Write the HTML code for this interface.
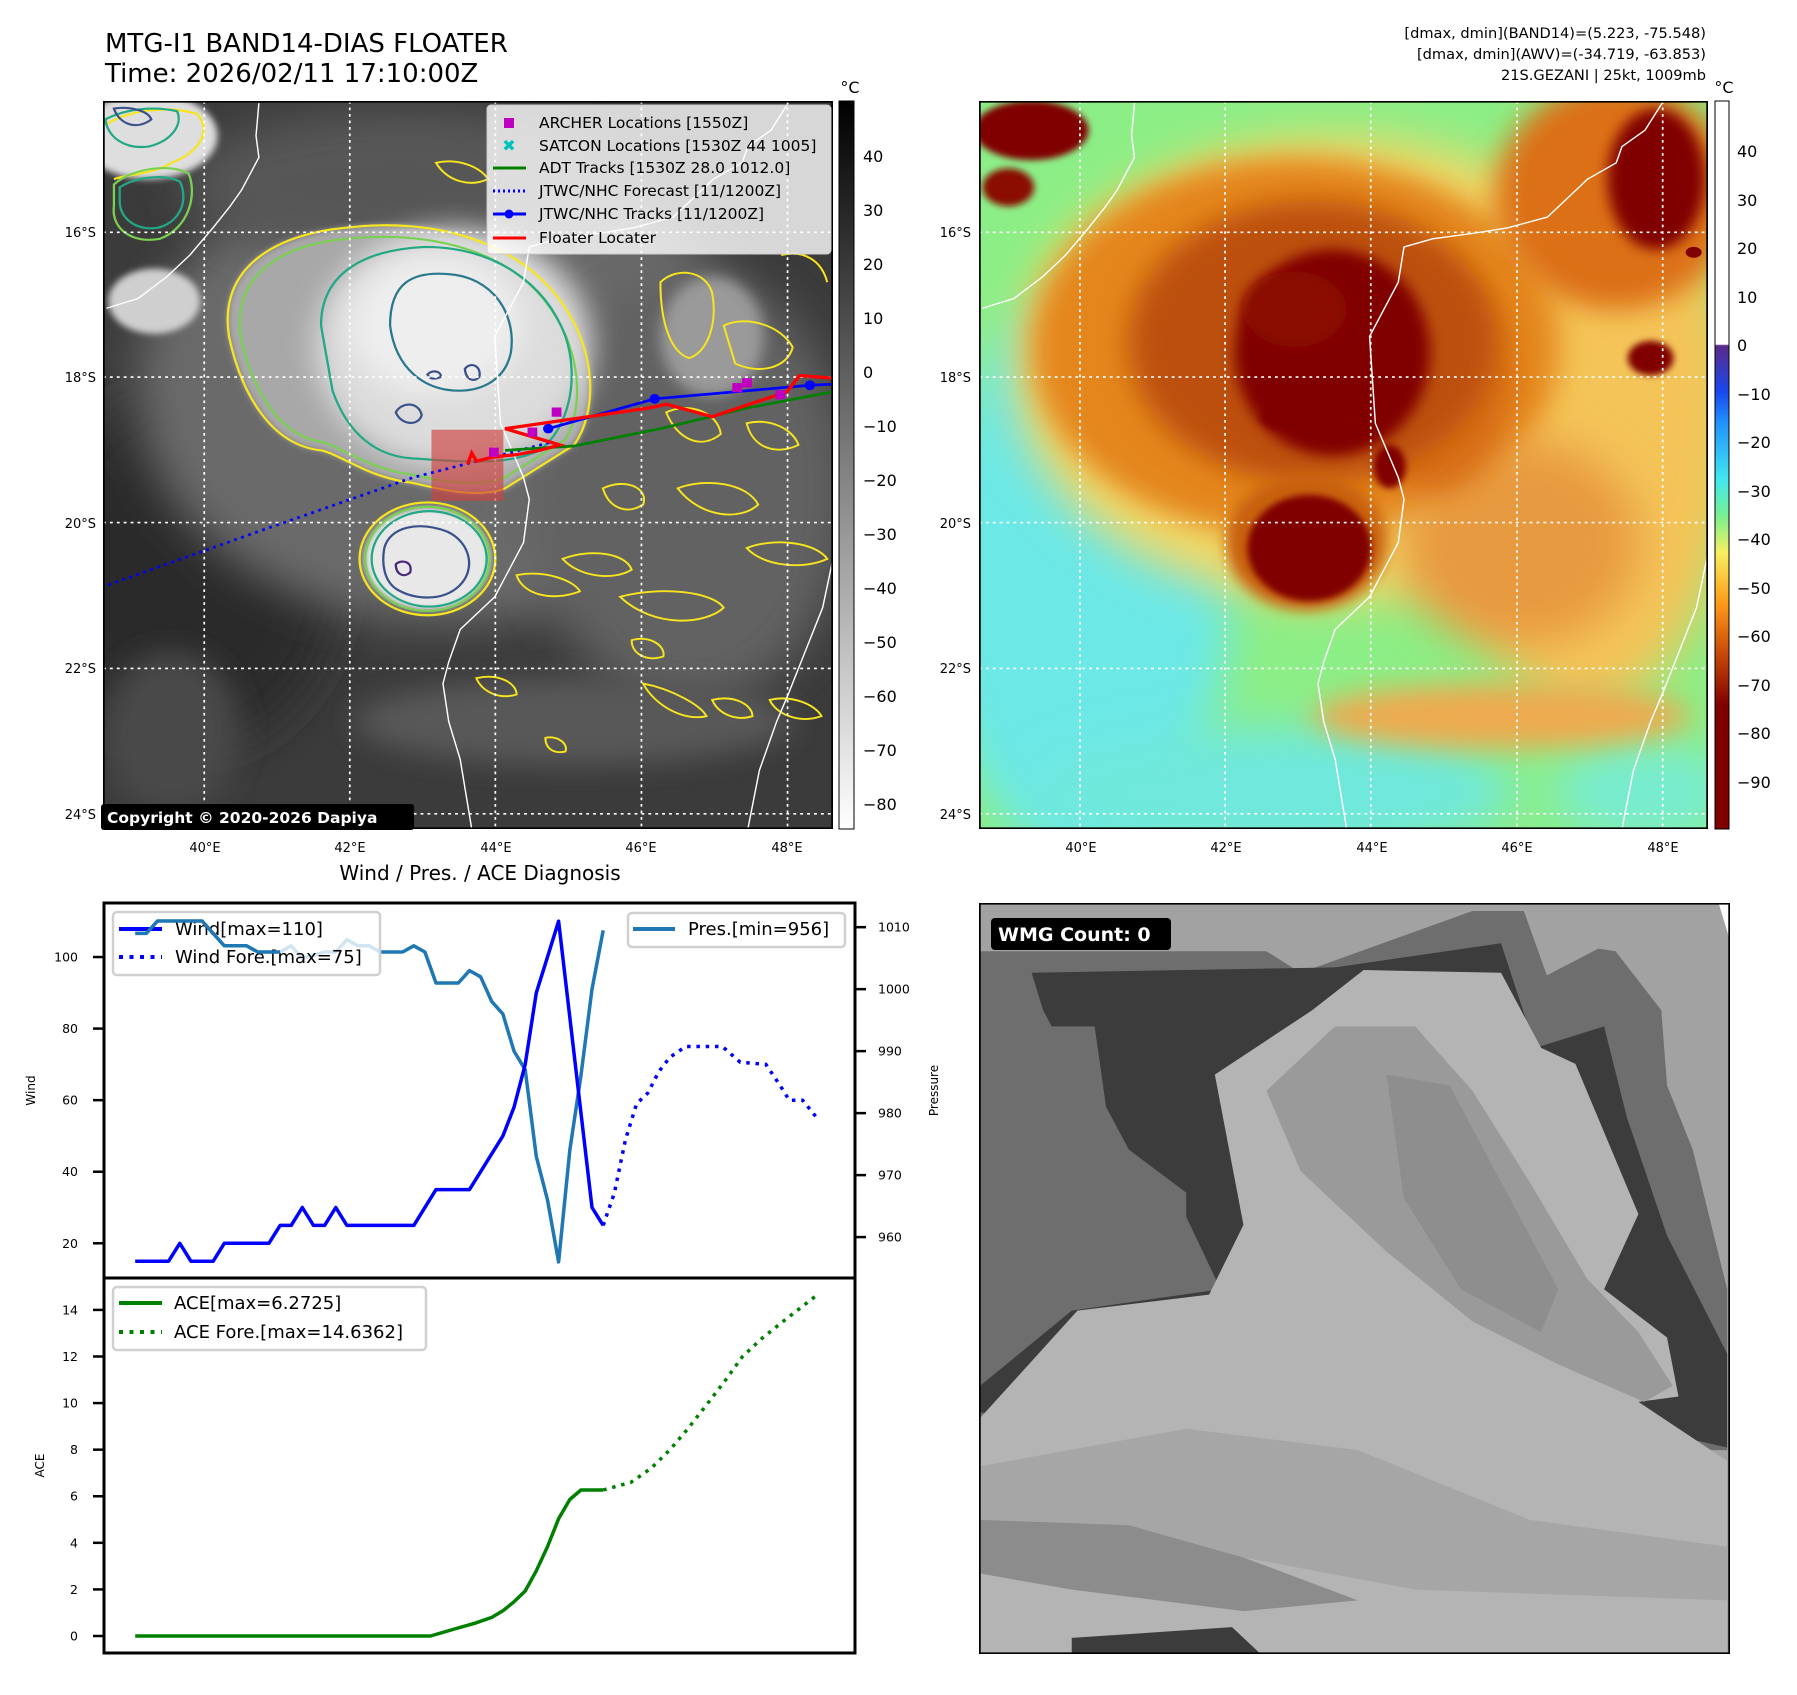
<!DOCTYPE html>
<html><head><meta charset="utf-8"><title>MTG-I1 BAND14 Floater</title>
<style>
html,body{margin:0;padding:0;background:#fff;}
svg text{font-family:"DejaVu Sans","Liberation Sans",sans-serif;}
</style></head>
<body>
<svg id="root" width="1797" height="1690" viewBox="0 0 1797 1690" xmlns="http://www.w3.org/2000/svg">
<defs>
  <filter id="b40" x="-50%" y="-50%" width="200%" height="200%"><feGaussianBlur stdDeviation="40"/></filter>
  <filter id="b25" x="-50%" y="-50%" width="200%" height="200%"><feGaussianBlur stdDeviation="25"/></filter>
  <filter id="b12" x="-50%" y="-50%" width="200%" height="200%"><feGaussianBlur stdDeviation="12"/></filter>
  <filter id="b6" x="-50%" y="-50%" width="200%" height="200%"><feGaussianBlur stdDeviation="6"/></filter>
  <linearGradient id="gGrey" x1="0" y1="0" x2="0" y2="1">
    <stop offset="0" stop-color="#000"/><stop offset="1" stop-color="#fff"/>
  </linearGradient>
  <linearGradient id="gAwv" x1="0" y1="0" x2="0" y2="1">
    <stop offset="0" stop-color="#fff"/><stop offset="0.334" stop-color="#fff"/>
    <stop offset="0.336" stop-color="#5a2a8a"/>
    <stop offset="0.40" stop-color="#1848f0"/>
    <stop offset="0.44" stop-color="#2090ff"/>
    <stop offset="0.52" stop-color="#40e8f0"/>
    <stop offset="0.57" stop-color="#78f090"/>
    <stop offset="0.62" stop-color="#f8f060"/>
    <stop offset="0.69" stop-color="#ff9a18"/>
    <stop offset="0.76" stop-color="#c84808"/>
    <stop offset="0.83" stop-color="#800000"/>
    <stop offset="1" stop-color="#800000"/>
  </linearGradient>
</defs>

<text x="105" y="52" font-size="26" fill="#000">MTG-I1 BAND14-DIAS FLOATER</text>
<text x="105" y="82" font-size="26" fill="#000">Time: 2026/02/11 17:10:00Z</text>
<g font-size="14.6" text-anchor="end" fill="#000">
  <text x="1706" y="38">[dmax, dmin](BAND14)=(5.223, -75.548)</text>
  <text x="1706" y="59">[dmax, dmin](AWV)=(-34.719, -63.853)</text>
  <text x="1706" y="80">21S.GEZANI | 25kt, 1009mb</text>
</g>

<!-- MAP 1 -->
<svg x="103" y="101" width="730" height="728" viewBox="181 186 1269 1342" preserveAspectRatio="none">
  <rect x="181" y="186" width="1269" height="1342" fill="#3b3b3b"/>
  <ellipse cx="330" cy="1050" rx="260" ry="330" fill="#2c2c2c" filter="url(#b40)"/>
  <ellipse cx="780" cy="720" rx="540" ry="430" fill="#6a6a6a" filter="url(#b40)"/>
  <ellipse cx="1200" cy="900" rx="280" ry="400" fill="#626262" filter="url(#b40)"/>
  <ellipse cx="700" cy="340" rx="380" ry="140" fill="#565656" filter="url(#b40)"/>
  <ellipse cx="1000" cy="1330" rx="380" ry="80" fill="#585858" filter="url(#b25)"/>
  <ellipse cx="300" cy="1350" rx="120" ry="150" fill="#4a4a4a" filter="url(#b25)"/>
  <path d="M400,620 C380,480 500,430 600,420 C750,400 900,440 980,560 C1040,650 1040,760 1000,820 L880,900 C830,920 760,900 720,890 C640,880 600,840 560,830 C470,820 420,720 400,620 Z" fill="#a8a8a8" filter="url(#b6)"/>
  <ellipse cx="790" cy="640" rx="240" ry="220" fill="#dcdcdc" filter="url(#b25)"/>
  <ellipse cx="760" cy="600" rx="150" ry="130" fill="#eeeeee" filter="url(#b25)"/>
  <ellipse cx="745" cy="1030" rx="110" ry="95" fill="#e8e8e8" filter="url(#b6)"/>
  <ellipse cx="260" cy="250" rx="120" ry="80" fill="#dedede" filter="url(#b6)"/>
  <ellipse cx="270" cy="555" rx="80" ry="60" fill="#cfcfcf" filter="url(#b6)"/>
  <ellipse cx="1240" cy="620" rx="90" ry="110" fill="#9a9a9a" filter="url(#b12)"/>
  <g fill="none" stroke-width="4">
    <path d="M400,620 C380,480 500,430 600,420 C750,400 900,440 980,560 C1040,650 1040,760 1000,820 L880,900 C830,920 760,900 720,890 C640,880 600,840 560,830 C470,820 420,720 400,620 Z" stroke="#f7e51e"/>
    <path d="M420,620 C405,495 510,448 605,440 C750,425 890,460 960,570 C1015,655 1015,755 985,810 L880,880 C830,900 760,885 720,875 C645,865 605,830 565,815 C485,805 440,715 420,620 Z" stroke="#7ad151"/>
    <path d="M560,600 C560,500 640,460 740,455 C860,455 950,520 985,620 C1010,700 990,790 940,830 C880,860 800,850 720,845 C640,840 600,780 580,720 Z" stroke="#22a884"/>
    <path d="M680,600 C680,520 720,500 780,505 C860,510 900,580 890,650 C880,700 840,720 800,720 C740,720 690,680 680,600 Z" stroke="#2a788e"/>
    <path d="M690,760 C700,740 730,740 735,765 C730,785 700,785 690,760 Z" stroke="#3b518b"/>
    <path d="M745,690 C755,680 770,685 768,695 C755,700 748,698 745,690 Z" stroke="#3b518b"/>
    <path d="M810,680 C820,665 840,675 835,695 C825,705 812,700 810,680 Z" stroke="#3b518b"/>
    <ellipse cx="745" cy="1030" rx="118" ry="104" stroke="#f7e51e"/>
    <ellipse cx="745" cy="1030" rx="108" ry="96" stroke="#7ad151"/>
    <ellipse cx="748" cy="1030" rx="100" ry="88" stroke="#22a884"/>
    <path d="M670,1010 C680,970 730,960 780,980 C820,1000 830,1050 800,1080 C770,1110 720,1105 690,1085 C670,1070 665,1040 670,1010 Z" stroke="#3b518b"/>
    <path d="M690,1040 C700,1030 720,1035 715,1055 C705,1065 690,1060 690,1040 Z" stroke="#482878"/>
    <path d="M185,230 C230,200 300,195 345,210 C370,240 350,280 300,300 C270,320 230,320 200,330" stroke="#f7e51e"/>
    <path d="M200,340 C230,310 300,300 330,320 C345,360 330,420 280,440 C230,450 195,420 200,380 Z" stroke="#7ad151"/>
    <path d="M210,345 C240,325 290,320 315,335 C330,370 315,410 275,420 C235,425 210,400 210,370 Z" stroke="#22a884"/>
    <path d="M185,220 C220,200 270,195 310,205 C320,230 300,260 260,270 C220,275 190,255 185,220 Z" stroke="#22a884"/>
    <path d="M200,200 C230,195 260,205 265,220 C240,240 210,230 200,200 Z" stroke="#3b518b"/>
  </g>
  <g fill="none" stroke="#f7e51e" stroke-width="3.5">
    <path d="M760,300 C800,290 840,310 850,330 C820,345 780,335 760,300 Z"/>
    <path d="M1150,520 C1180,490 1230,500 1240,540 C1250,600 1230,650 1200,660 C1170,650 1150,600 1150,520 Z"/>
    <path d="M1260,600 C1300,580 1360,600 1380,640 C1370,680 1320,690 1280,670 Z"/>
    <path d="M1050,900 C1090,880 1130,900 1120,930 C1090,950 1060,935 1050,900 Z"/>
    <path d="M980,1030 C1030,1010 1090,1020 1100,1050 C1070,1070 1010,1065 980,1030 Z"/>
    <path d="M1080,1100 C1150,1080 1240,1090 1260,1120 C1230,1150 1140,1160 1080,1100 Z"/>
    <path d="M1180,900 C1230,880 1300,890 1320,930 C1290,960 1220,955 1180,900 Z"/>
    <path d="M1300,1010 C1350,990 1420,1000 1440,1030 C1400,1050 1330,1045 1300,1010 Z"/>
    <path d="M1160,760 C1200,740 1250,760 1255,800 C1220,830 1180,810 1160,760 Z"/>
    <path d="M900,1060 C950,1050 1000,1070 1010,1090 C960,1110 910,1095 900,1060 Z"/>
    <path d="M1120,1260 C1170,1270 1220,1300 1230,1320 C1190,1330 1140,1300 1120,1260 Z"/>
    <path d="M1240,1290 C1280,1280 1310,1300 1310,1320 C1280,1330 1250,1315 1240,1290 Z"/>
    <path d="M1340,1290 C1380,1280 1420,1300 1430,1320 C1390,1335 1350,1315 1340,1290 Z"/>
    <path d="M830,1250 C870,1240 900,1260 900,1280 C870,1290 840,1275 830,1250 Z"/>
    <path d="M950,1360 C970,1355 990,1370 985,1385 C965,1390 950,1380 950,1360 Z"/>
    <path d="M1360,470 C1400,460 1430,480 1440,520" />
    <path d="M1300,780 C1340,770 1380,790 1390,820 C1350,840 1310,825 1300,780 Z"/>
    <path d="M1100,1180 C1130,1170 1160,1190 1155,1210 C1125,1220 1100,1205 1100,1180 Z"/>
  </g>
  <g transform="translate(42,0)" fill="none" stroke="#fff" stroke-width="2.5">
    <path d="M145,568 L200,550 L250,510 L290,470 L330,420 L360,380 L380,350 L395,320 L410,290 L405,250 L410,190"/>
    <path d="M1330,190 L1300,240 L1260,270 L1250,300 L1200,330 L1130,400 L1060,420 L1000,430 L930,440 L880,455 L870,520 L840,580 L820,620 L825,700 L830,780 L850,830 L870,880 L880,920 L870,1000 L840,1060 L820,1100 L760,1160 L740,1220 L730,1260 L740,1330 L760,1400 L780,1528"/>
    <path d="M1410,1020 L1390,1120 L1360,1200 L1330,1280 L1310,1330 L1280,1420 L1260,1528"/>
  </g>
  <g stroke="#fff" stroke-width="3" stroke-dasharray="5 7">
    <line x1="357" y1="186" x2="357" y2="1528"/><line x1="610" y1="186" x2="610" y2="1528"/>
    <line x1="863" y1="186" x2="863" y2="1528"/><line x1="1117" y1="186" x2="1117" y2="1528"/>
    <line x1="1371" y1="186" x2="1371" y2="1528"/>
    <line x1="181" y1="428" x2="1450" y2="428"/><line x1="181" y1="695" x2="1450" y2="695"/>
    <line x1="181" y1="963" x2="1450" y2="963"/><line x1="181" y1="1232" x2="1450" y2="1232"/>
    <line x1="181" y1="1500" x2="1450" y2="1500"/>
  </g>
  <rect x="752" y="792" width="125" height="131" fill="#d04040" fill-opacity="0.65"/>
  <path d="M190,1078 L450,980 L720,880 L960,815" fill="none" stroke="#0000ff" stroke-width="5" stroke-dasharray="5 8"/>
  <path d="M880,830 L1000,822 L1150,790 L1300,752 L1450,722" fill="none" stroke="#008000" stroke-width="5"/>
  <path d="M955,790 L1140,735 L1410,710 L1450,708" fill="none" stroke="#0000ff" stroke-width="5"/>
  <g fill="#0000ff"><circle cx="955" cy="790" r="9"/><circle cx="1140" cy="735" r="9"/><circle cx="1410" cy="710" r="9"/></g>
  <path d="M815,855 L822,835 L830,850 L860,842 L900,838 L940,830 L975,820 L880,790 L1130,752 L1160,745 L1240,768 L1370,722 L1392,692 L1450,697" fill="none" stroke="#ff0000" stroke-width="6"/>
  <g fill="#c000c0">
    <rect x="961" y="751" width="17" height="17"/><rect x="919" y="788" width="17" height="17"/>
    <rect x="852" y="825" width="17" height="17"/><rect x="1275" y="706" width="17" height="17"/>
    <rect x="1292" y="697" width="17" height="17"/><rect x="1350" y="719" width="17" height="17"/>
  </g>
  <rect x="181" y="186" width="1269" height="1342" fill="none" stroke="#000" stroke-width="6"/>
</svg>

<g>
  <rect x="487" y="105" width="344" height="149" rx="4" fill="#fff" fill-opacity="0.8" stroke="#ccc"/>
  <rect x="504" y="118" width="10" height="10" fill="#c000c0"/>
  <text x="509" y="151" font-size="16" font-weight="bold" fill="#00c0c0" text-anchor="middle">✖</text>
  <line x1="493" y1="168" x2="526" y2="168" stroke="#008000" stroke-width="3"/>
  <line x1="493" y1="191" x2="526" y2="191" stroke="#0000ff" stroke-width="3" stroke-dasharray="2 3"/>
  <line x1="493" y1="214" x2="526" y2="214" stroke="#0000ff" stroke-width="3"/><circle cx="509" cy="214" r="4.5" fill="#0000ff"/>
  <line x1="493" y1="238" x2="526" y2="238" stroke="#ff0000" stroke-width="3"/>
  <g font-size="15.5" fill="#000">
    <text x="539" y="128">ARCHER Locations [1550Z]</text>
    <text x="539" y="151">SATCON Locations [1530Z 44 1005]</text>
    <text x="539" y="173">ADT Tracks [1530Z 28.0 1012.0]</text>
    <text x="539" y="196">JTWC/NHC Forecast [11/1200Z]</text>
    <text x="539" y="219">JTWC/NHC Tracks [11/1200Z]</text>
    <text x="539" y="243">Floater Locater</text>
  </g>
</g>
<g>
  <rect x="101" y="804" width="313" height="26" rx="3" fill="#000"/>
  <text x="107" y="823" font-size="15.5" font-weight="bold" fill="#fff">Copyright © 2020-2026 Dapiya</text>
</g>

<g font-size="13" fill="#000" text-anchor="end">
  <text x="96" y="237">16°S</text><text x="96" y="382">18°S</text><text x="96" y="528">20°S</text><text x="96" y="673">22°S</text><text x="96" y="819">24°S</text>
</g>
<g font-size="13" fill="#000" text-anchor="middle">
  <text x="205" y="852">40°E</text><text x="350" y="852">42°E</text><text x="496" y="852">44°E</text><text x="641" y="852">46°E</text><text x="787" y="852">48°E</text>
</g>
<g>
  <rect x="839" y="101" width="15" height="728" fill="url(#gGrey)" stroke="#000" stroke-width="1"/>
  <text x="850" y="93" font-size="16" text-anchor="middle">°C</text>
  <g font-size="16" fill="#000">
    <text x="863" y="162">40</text><text x="863" y="216">30</text><text x="863" y="270">20</text>
    <text x="863" y="324">10</text><text x="863" y="378">0</text><text x="863" y="432">−10</text>
    <text x="863" y="486">−20</text><text x="863" y="540">−30</text><text x="863" y="594">−40</text>
    <text x="863" y="648">−50</text><text x="863" y="702">−60</text><text x="863" y="756">−70</text>
    <text x="863" y="810">−80</text>
  </g>
</g>

<!-- MAP 2 -->
<svg x="979" y="101" width="729" height="728" viewBox="139 186 1271 1342" preserveAspectRatio="none">
  <rect x="139" y="186" width="1271" height="1342" fill="#8cee86"/>
  <ellipse cx="320" cy="1060" rx="260" ry="520" fill="#6ce8e6" filter="url(#b40)"/>
  <ellipse cx="650" cy="1460" rx="420" ry="120" fill="#70e8dc" filter="url(#b40)"/>
  <ellipse cx="1300" cy="1460" rx="160" ry="90" fill="#78ecd0" filter="url(#b40)"/>
  <ellipse cx="760" cy="680" rx="560" ry="430" fill="#f2d868" filter="url(#b40)"/>
  <ellipse cx="1200" cy="780" rx="260" ry="520" fill="#f4c458" filter="url(#b40)"/>
  <ellipse cx="1050" cy="1320" rx="330" ry="60" fill="#eeaa50" filter="url(#b25)"/>
  <ellipse cx="690" cy="640" rx="460" ry="350" fill="#e4861e" filter="url(#b25)"/>
  <ellipse cx="1250" cy="360" rx="210" ry="210" fill="#dc7018" filter="url(#b25)"/>
  <ellipse cx="1080" cy="1000" rx="210" ry="190" fill="#e89a40" filter="url(#b40)"/>
  <ellipse cx="930" cy="700" rx="140" ry="210" fill="#d87018" filter="url(#b25)"/>
  <ellipse cx="720" cy="630" rx="320" ry="260" fill="#bc5010" filter="url(#b25)"/>
  <ellipse cx="755" cy="650" rx="170" ry="190" fill="#800000" filter="url(#b12)"/>
  <ellipse cx="690" cy="570" rx="90" ry="70" fill="#8a0800" filter="url(#b12)"/>
  <ellipse cx="660" cy="770" rx="30" ry="20" fill="#800000" filter="url(#b6)"/>
  <ellipse cx="855" cy="860" rx="28" ry="40" fill="#800000" filter="url(#b6)"/>
  <ellipse cx="710" cy="1000" rx="140" ry="125" fill="#c86010" filter="url(#b12)"/>
  <ellipse cx="715" cy="1010" rx="108" ry="98" fill="#800000" filter="url(#b6)"/>
  <ellipse cx="230" cy="240" rx="100" ry="55" fill="#800000" filter="url(#b6)"/>
  <ellipse cx="190" cy="345" rx="45" ry="35" fill="#8a1000" filter="url(#b6)"/>
  <ellipse cx="1320" cy="330" rx="85" ry="130" fill="#800000" filter="url(#b12)"/>
  <ellipse cx="1310" cy="660" rx="40" ry="32" fill="#800000" filter="url(#b6)"/>
  <ellipse cx="1385" cy="465" rx="14" ry="10" fill="#800000"/>
  <g fill="none" stroke="#fff" stroke-width="2.5">
    <path d="M145,568 L200,550 L250,510 L290,470 L330,420 L360,380 L380,350 L395,320 L410,290 L405,250 L410,190"/>
    <path d="M1330,190 L1300,240 L1260,270 L1250,300 L1200,330 L1130,400 L1060,420 L1000,430 L930,440 L880,455 L870,520 L840,580 L820,620 L825,700 L830,780 L850,830 L870,880 L880,920 L870,1000 L840,1060 L820,1100 L760,1160 L740,1220 L730,1260 L740,1330 L760,1400 L780,1528"/>
    <path d="M1410,1020 L1390,1120 L1360,1200 L1330,1280 L1310,1330 L1280,1420 L1260,1528"/>
  </g>
  <g stroke="#fff" stroke-width="3" stroke-dasharray="5 7">
    <line x1="315" y1="186" x2="315" y2="1528"/><line x1="568" y1="186" x2="568" y2="1528"/>
    <line x1="822" y1="186" x2="822" y2="1528"/><line x1="1077" y1="186" x2="1077" y2="1528"/>
    <line x1="1331" y1="186" x2="1331" y2="1528"/>
    <line x1="139" y1="428" x2="1410" y2="428"/><line x1="139" y1="695" x2="1410" y2="695"/>
    <line x1="139" y1="963" x2="1410" y2="963"/><line x1="139" y1="1232" x2="1410" y2="1232"/>
    <line x1="139" y1="1500" x2="1410" y2="1500"/>
  </g>
  <rect x="139" y="186" width="1271" height="1342" fill="none" stroke="#000" stroke-width="6"/>
</svg>
<g font-size="13" fill="#000" text-anchor="end">
  <text x="971" y="237">16°S</text><text x="971" y="382">18°S</text><text x="971" y="528">20°S</text><text x="971" y="673">22°S</text><text x="971" y="819">24°S</text>
</g>
<g font-size="13" fill="#000" text-anchor="middle">
  <text x="1081" y="852">40°E</text><text x="1226" y="852">42°E</text><text x="1372" y="852">44°E</text><text x="1517" y="852">46°E</text><text x="1663" y="852">48°E</text>
</g>
<g>
  <rect x="1715" y="101" width="14" height="728" fill="url(#gAwv)" stroke="#000" stroke-width="1"/>
  <text x="1724" y="93" font-size="16" text-anchor="middle">°C</text>
  <g font-size="16" fill="#000">
    <text x="1737" y="157">40</text><text x="1737" y="206">30</text><text x="1737" y="254">20</text>
    <text x="1737" y="303">10</text><text x="1737" y="351">0</text><text x="1737" y="400">−10</text>
    <text x="1737" y="448">−20</text><text x="1737" y="497">−30</text><text x="1737" y="545">−40</text>
    <text x="1737" y="594">−50</text><text x="1737" y="642">−60</text><text x="1737" y="691">−70</text>
    <text x="1737" y="739">−80</text><text x="1737" y="788">−90</text>
  </g>
</g>

<!-- WMG panel -->
<svg x="979" y="903" width="751" height="751" viewBox="138 100 1312 1400" preserveAspectRatio="none">
  <rect x="138" y="100" width="1312" height="1400" fill="#a2a2a2"/>
  <polygon points="1430,100 1450,100 1450,170" fill="#fff"/>
  <polygon points="140,1490 200,1500 140,1500" fill="#fff"/>
  <polygon fill="#6e6e6e" points="140,190 640,190 700,230 1000,115 1090,115 1130,235 1220,185 1250,190 1330,300 1340,440 1385,560 1445,820 1445,1120 140,1120"/>
  <polygon fill="#3c3c3c" points="230,230 760,220 1050,175 1110,370 1230,330 1270,500 1340,720 1445,940 1445,1115 1300,1080 1280,1020 140,1050 140,1000 300,860 560,820 480,640 360,560 330,460 250,300"/>
  <polygon fill="#6e6e6e" points="150,330 340,330 360,480 400,560 500,640 500,740 360,780 140,770"/>
  <polygon fill="#b4b4b4" points="810,225 1050,230 1120,370 1180,400 1290,680 1230,820 1340,910 1360,1020 1290,1030 1445,1140 1445,1500 140,1500 140,1060 310,860 540,830 600,700 550,420 720,300"/>
  <polygon fill="#9a9a9a" points="760,330 900,330 1000,450 1100,620 1200,800 1290,900 1350,1000 1300,1030 1150,960 1000,880 850,750 700,600 640,450"/>
  <polygon fill="#8e8e8e" points="850,420 960,440 1060,640 1150,820 1120,900 980,820 880,650"/>
  <polygon fill="#a6a6a6" points="140,1150 500,1080 800,1120 1100,1250 1445,1300 1445,1400 900,1380 500,1300 140,1260"/>
  <polygon fill="#8c8c8c" points="140,1250 400,1260 600,1320 800,1400 600,1420 300,1380 140,1350"/>
  <polygon fill="#3c3c3c" points="300,1470 580,1450 630,1500 300,1500"/>
  <rect x="138" y="100" width="1312" height="1400" fill="none" stroke="#000" stroke-width="6"/>
</svg>
<g>
  <rect x="991" y="918" width="180" height="32" rx="4" fill="#000"/>
  <text x="998" y="941" font-size="19" font-weight="bold" fill="#fff">WMG Count: 0</text>
</g>

<text x="480" y="880" font-size="20" text-anchor="middle">Wind / Pres. / ACE Diagnosis</text>
<g id="chart"></g>
</svg>

<script>
const windX = [0,3,4,5,7,8,12,13,14,15,16,17,18,19,25,27,30,33,34,35,36,37,38,41,42];
const windY = [15,15,20,15,15,20,20,25,25,30,25,25,30,25,25,35,35,50,58,70,90,100,110,30,25];
const windForeX = [42,43,44,45,46,47,48,49.4,52.7,54.3,56.6,57.9,58.7,59.9,61.2];
const windForeY = [25,34,49,59,62,68,72,75,75,70.6,70,64,60,60,55];
const presX = [0,1,2,6,7,8,10,11,13,14,15,17,18,19,20,21,22,24,25,26,27,29,30,31,32,33,34,35,36,37,38,39,40,41,42];
const presY = [1009,1009,1011,1011,1009,1007,1007,1006,1006,1007,1005,1006,1006,1008,1007,1007,1006,1006,1007,1006,1001,1001,1003,1002,998,996,990,987,973,966,956,974,986,1000,1009.5];
const aceX = [0,26.5,28.5,30.5,32,33,34,35,36,37,38,39,40,42];
const aceY = [0,0,0.28,0.55,0.8,1.08,1.47,1.93,2.8,3.84,5.03,5.86,6.27,6.27];
const aceForeX = [42,44.5,46.3,48,49.6,51.4,53,54.5,56.3,58.4,61.2];
const aceForeY = [6.27,6.6,7.2,8,8.9,10,11,12,12.8,13.6,14.64];
const windTicks = [20,40,60,80,100];
const presTicks = [960,970,980,990,1000,1010];
const aceTicks = [0,2,4,6,8,10,12,14];

const L = 104, R = 855, T = 903, M = 1278, B = 1653;
const X0 = -2.8, X1 = 64.6;
const W0 = 10.3, W1 = 115.1;
const P0 = 953.4, P1 = 1013.9;
const A0 = -0.73, A1 = 15.37;
function xs(v){ return L + (v - X0) / (X1 - X0) * (R - L); }
function yWind(v){ return M - (v - W0) / (W1 - W0) * (M - T); }
function yPres(v){ return M - (v - P0) / (P1 - P0) * (M - T); }
function yAce(v){ return B - (v - A0) / (A1 - A0) * (B - M); }

const NS = 'http://www.w3.org/2000/svg';
const chart = document.getElementById('chart');
function mk(tag, attrs, parent){
  const e = document.createElementNS(NS, tag);
  for (const k in attrs) e.setAttribute(k, attrs[k]);
  (parent || chart).appendChild(e);
  return e;
}
function linePath(xsArr, ysArr, yf){
  return xsArr.map((x,i)=>(i?'L':'M')+xs(x).toFixed(1)+','+yf(ysArr[i]).toFixed(1)).join(' ');
}

const f1 = mk('rect',{x:L,y:T,width:R-L,height:M-T,fill:'#fff',stroke:'none'});


const f2 = mk('rect',{x:L,y:M,width:R-L,height:B-M,fill:'#fff',stroke:'none'});



const pPres = mk('path',{d:linePath(presX,presY,yPres),fill:'none',stroke:'#1f77b4','stroke-width':3.5,'stroke-linejoin':'round'});


const pWind = mk('path',{d:linePath(windX,windY,yWind),fill:'none',stroke:'#0000ff','stroke-width':3.5,'stroke-linejoin':'round'});


const pWindF = mk('path',{d:linePath(windForeX,windForeY,yWind),fill:'none',stroke:'#0000ff','stroke-width':3.5,'stroke-dasharray':'3.5 5.8'});


const pAce = mk('path',{d:linePath(aceX,aceY,yAce),fill:'none',stroke:'#008000','stroke-width':3.5,'stroke-linejoin':'round'});


const pAceF = mk('path',{d:linePath(aceForeX,aceForeY,yAce),fill:'none',stroke:'#008000','stroke-width':3.5,'stroke-dasharray':'3.5 5.8'});



windTicks.forEach(v=>{
  const y = yWind(v);
  mk('line',{x1:L-11,x2:L,y1:y,y2:y,stroke:'#000','stroke-width':2.5});
  const t = mk('text',{x:L-26,y:y+4.5,'font-size':12.5,'text-anchor':'end',fill:'#000'});
  t.textContent = v;
  
  
});
presTicks.forEach(v=>{
  const y = yPres(v);
  mk('line',{x1:R,x2:R+11,y1:y,y2:y,stroke:'#000','stroke-width':2.5});
  const t = mk('text',{x:R+23,y:y+4.5,'font-size':12.5,'text-anchor':'start',fill:'#000'});
  t.textContent = v;
  
  
});
aceTicks.forEach(v=>{
  const y = yAce(v);
  mk('line',{x1:L-11,x2:L,y1:y,y2:y,stroke:'#000','stroke-width':2.5});
  const t = mk('text',{x:L-26,y:y+4.5,'font-size':12.5,'text-anchor':'end',fill:'#000'});
  t.textContent = v;
  
  
});

const lw = mk('text',{x:0,y:0,'font-size':12,'text-anchor':'middle',transform:'translate(35,'+((T+M)/2)+') rotate(-90)'});
lw.textContent = 'Wind';


const lp = mk('text',{x:0,y:0,'font-size':12,'text-anchor':'middle',transform:'translate(938,'+((T+M)/2)+') rotate(-90)'});
lp.textContent = 'Pressure';


const la = mk('text',{x:0,y:0,'font-size':12,'text-anchor':'middle',transform:'translate(44,'+((M+B)/2)+') rotate(-90)'});
la.textContent = 'ACE';



mk('rect',{x:L,y:T,width:R-L,height:M-T,fill:'none',stroke:'#000','stroke-width':3});
mk('rect',{x:L,y:M,width:R-L,height:B-M,fill:'none',stroke:'#000','stroke-width':3});

function legend(name, bx, by, bw, bh, items){
  const g = mk('g',{});
  
  
  mk('rect',{x:bx,y:by,width:bw,height:bh,rx:4,fill:'#fff','fill-opacity':0.8,stroke:'#d0d0d0','stroke-width':2.5},g);
  items.forEach(it=>{
    const a = {x1:it.lx1,x2:it.lx2,y1:it.y,y2:it.y,stroke:it.c,'stroke-width':4};
    if (it.dot) a['stroke-dasharray'] = '4 6.5';
    mk('line',a,g);
    const t = mk('text',{x:it.tx,y:it.y+6,'font-size':18,fill:'#000'},g);
    t.textContent = it.label;
  });
}
legend('wind-legend',113,912,267,63,[
  {lx1:119,lx2:162,y:929,c:'#0000ff',tx:175,label:'Wind[max=110]'},
  {lx1:119,lx2:162,y:957,c:'#0000ff',dot:true,tx:175,label:'Wind Fore.[max=75]'}]);
legend('pressure-legend',628,913,217,34,[
  {lx1:633,lx2:675,y:929,c:'#1f77b4',tx:688,label:'Pres.[min=956]'}]);
legend('ace-legend',113,1287,313,63,[
  {lx1:119,lx2:162,y:1303,c:'#008000',tx:174,label:'ACE[max=6.2725]'},
  {lx1:119,lx2:162,y:1332,c:'#008000',dot:true,tx:174,label:'ACE Fore.[max=14.6362]'}]);
const pPres2 = mk('path',{d:linePath(presX.slice(0,9),presY.slice(0,9),yPres),fill:'none',stroke:'#1f77b4','stroke-width':3.5,'stroke-linejoin':'round'});


</script>
</body></html>
